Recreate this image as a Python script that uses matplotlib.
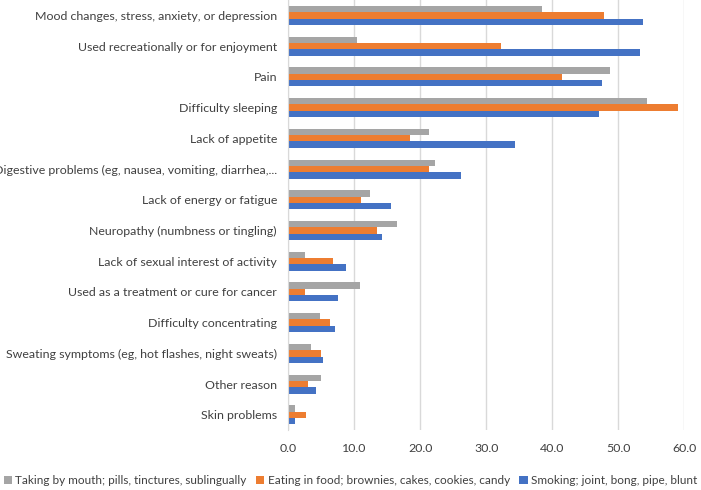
import numpy as np
import matplotlib.pyplot as plt

plt.rcParams['font.family'] = ['Lato', 'DejaVu Sans']

categories = [
    "Mood changes, stress, anxiety, or depression",
    "Used recreationally or for enjoyment",
    "Pain",
    "Difficulty sleeping",
    "Lack of appetite",
    "Digestive problems (eg, nausea, vomiting, diarrhea,...",
    "Lack of energy or fatigue",
    "Neuropathy (numbness or tingling)",
    "Lack of sexual interest of activity",
    "Used as a treatment or cure for cancer",
    "Difficulty concentrating",
    "Sweating symptoms (eg, hot flashes, night sweats)",
    "Other reason",
    "Skin problems",
]
by_mouth = [38.4, 10.5, 48.7, 54.4, 21.3, 22.3, 12.4, 16.5, 2.5, 10.9, 4.8, 3.5, 5.0, 1.0]
in_food = [47.8, 32.3, 41.5, 59.0, 18.5, 21.4, 11.1, 13.4, 6.8, 2.6, 6.4, 5.0, 3.0, 2.7]
smoking = [53.7, 53.3, 47.6, 47.1, 34.4, 26.2, 15.6, 14.2, 8.8, 7.6, 7.1, 5.3, 4.3, 1.1]

series_labels = [
    "Taking by mouth; pills, tinctures, sublingually",
    "Eating in food; brownies, cakes, cookies, candy",
    "Smoking; joint, bong, pipe, blunt",
]
colors = ["#A5A5A5", "#ED7D31", "#4472C4"]

fig = plt.figure(figsize=(7.01, 4.9), dpi=100)
ax = fig.add_axes([0.411, 0.122, 0.565, 0.878])

y = np.arange(len(categories))
h = 0.206
ax.barh(y - h, by_mouth, height=h, color=colors[0], label=series_labels[0], zorder=3)
ax.barh(y, in_food, height=h, color=colors[1], label=series_labels[1], zorder=3)
ax.barh(y + h, smoking, height=h, color=colors[2], label=series_labels[2], zorder=3)

ax.set_ylim(len(categories) - 0.5, -0.5)
ax.set_xlim(0, 60)
ax.set_xticks(np.arange(0, 61, 10))
ax.set_xticklabels([f"{v:.1f}" for v in np.arange(0, 61, 10)], fontsize=8.9, color="#404040")
ax.set_yticks(y)
ax.set_yticklabels(categories, fontsize=8.9, color="#404040")
ax.tick_params(length=0, pad=8)
ax.tick_params(axis='x', pad=9)
ax.grid(axis='x', color="#D9D9D9", linewidth=1, zorder=0)
for s in ["top", "right", "bottom"]:
    ax.spines[s].set_visible(False)
ax.spines["left"].set_color("#D9D9D9")
ax.spines["left"].set_zorder(4)

fig.legend(loc="lower center", bbox_to_anchor=(0.5, -0.012), ncol=3, frameon=False,
           fontsize=8.5, handlelength=0.7, handleheight=0.7, handletextpad=0.3,
           columnspacing=0.8, labelcolor="#404040", borderpad=0.3)

fig.savefig("out.png", dpi=100)
